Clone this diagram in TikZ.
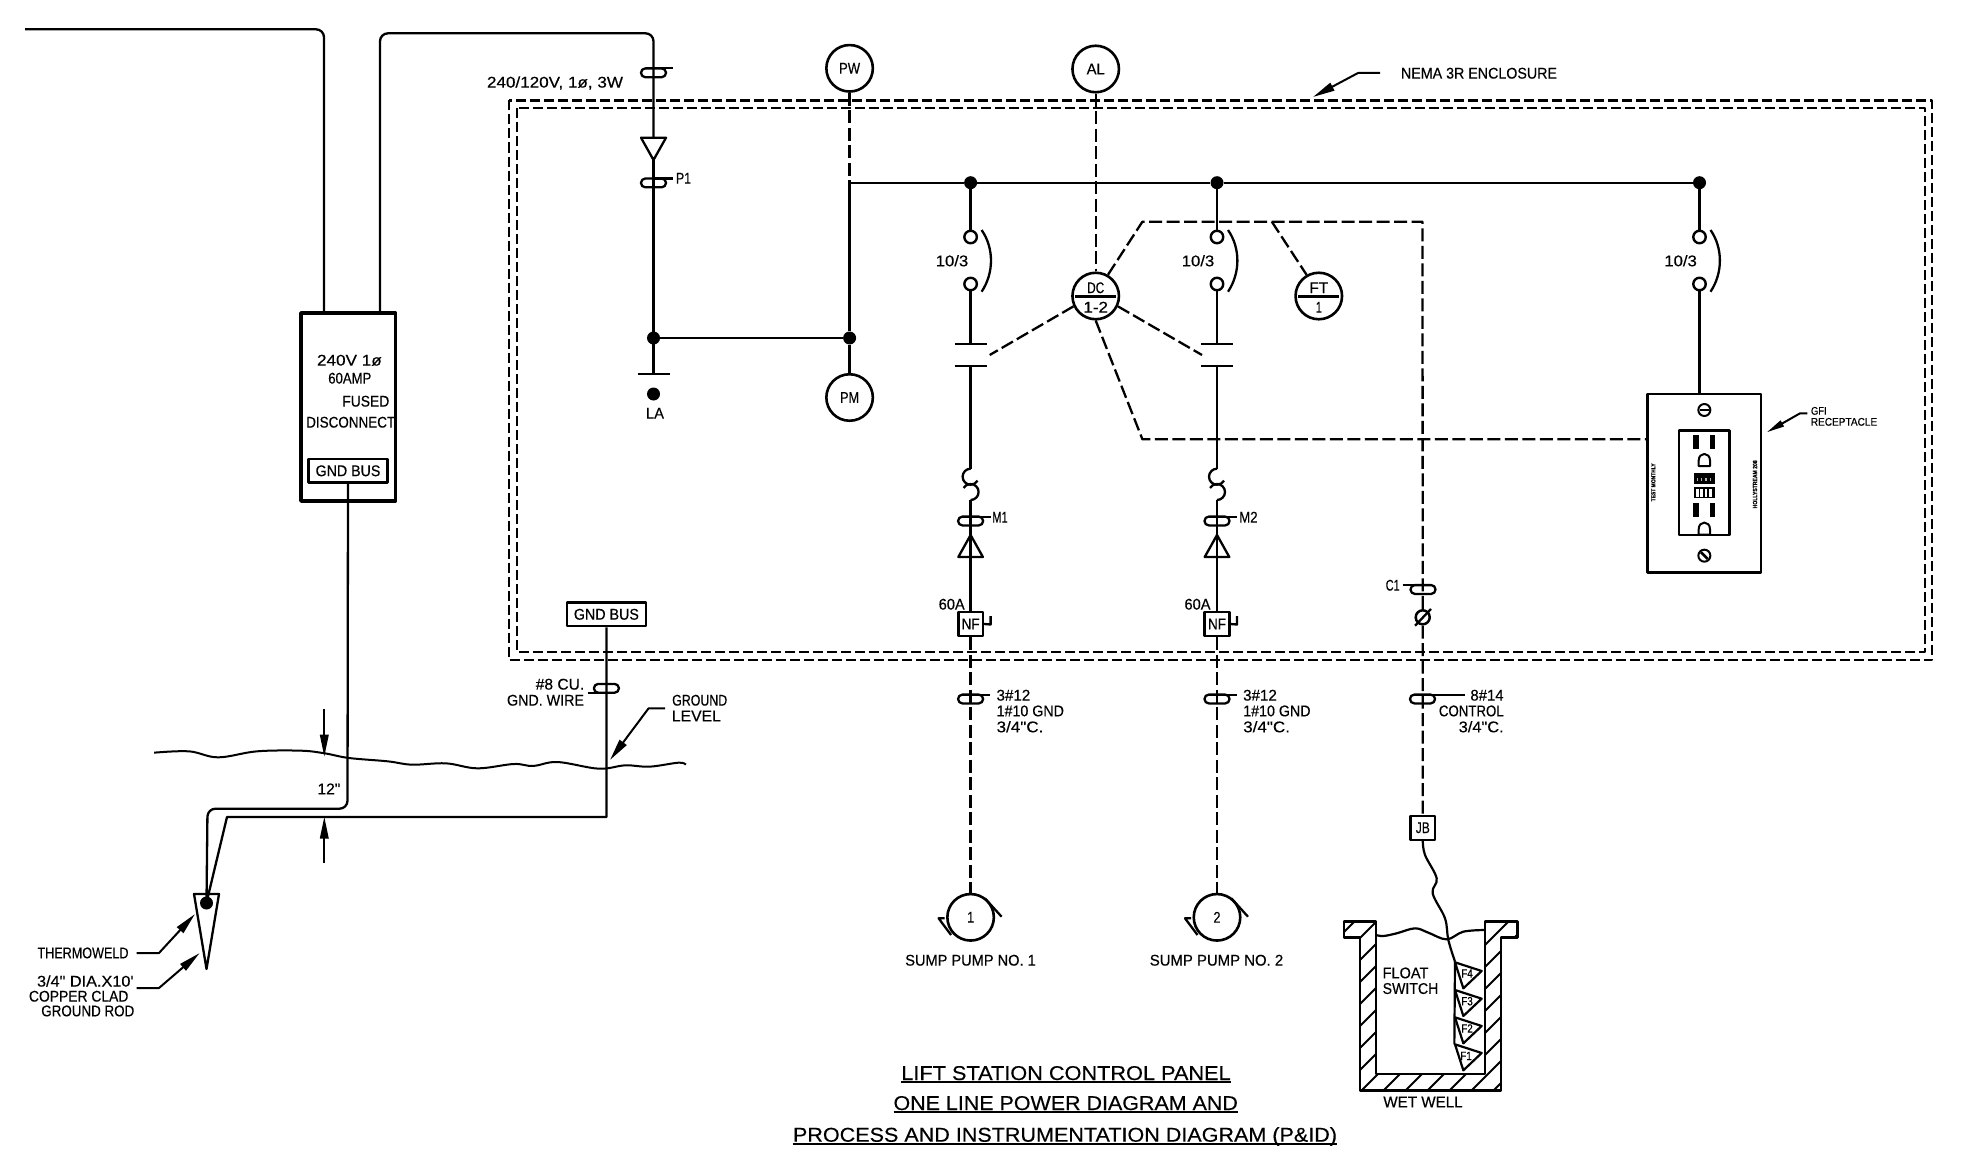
\documentclass[tikz,border=0pt]{standalone}
\usepackage{graphicx}
\usepackage{fontspec}
\setmainfont[FakeBold=0.35,AutoFakeBold=0.35]{Liberation Sans}
\newfontfamily\cadfont[FakeBold=0.35]{Liberation Sans}
\usetikzlibrary{arrows.meta,calc}
\newcommand\tx[6][15.5]{\node[lbl,yshift={-0.36*#1*1pt}] (#2) at (#3,#4) {\fontsize{#1}{#1}\selectfont\resizebox{#5pt}{\height}{\cadfont #6}};}
\newcommand\inb[3][15.5]{{\fontsize{#1}{#1}\selectfont\resizebox{#2pt}{\height}{\cadfont #3}}}
% cable tag: x, y centre, leader start, leader end, leader y
\newcommand\ctag[5]{\draw[part,rounded corners=4.3pt] (#1-12.5,#2-4.4) rectangle (#1+12.5,#2+4.4); \draw[part] (#3,#5) -- (#4,#5);}
% switch with its arc: id, x
\newcommand\swbr[2]{
  \node[term] (sw#1a) at (#2,237) {};
  \node[term] (sw#1b) at (#2,284) {};
  \draw[part] (#2+11,230) .. controls (#2+23.5,248) and (#2+23.5,273) .. (#2+11,291.7);
  \draw[wire] (d#1) -- (sw#1a);
}
% motor branch: id, x, overload tag label
\newcommand\motor[3]{
  \coordinate (ct#1) at (#2,343.7); \coordinate (cb#1) at (#2,366);
  \coordinate (fu#1a) at (#2,468.7); \coordinate (fu#1b) at (#2,500);
  \draw[part] (#2-16,343.7) -- (#2+16,343.7);
  \draw[part] (#2-16,366) -- (#2+16,366);
  \draw[wire] (sw#1b) -- (ct#1);
  \draw[wire] (cb#1) -- (fu#1a);
  \draw[part] (fu#1a) .. controls (#2-4.4,468.7) and (#2-8,472.3) .. (#2-8,476.7) .. controls (#2-8,481.1) and (#2-4.4,484.7) .. (#2,484.7) .. controls (#2+3,484.7) and (#2+5.5,483) .. (#2+7,480.7);
  \draw[part] (fu#1b) .. controls (#2+4.4,500) and (#2+8,496.4) .. (#2+8,492) .. controls (#2+8,487.6) and (#2+4.4,484) .. (#2,484) .. controls (#2-3,484) and (#2-5.5,485.5) .. (#2-7,488);
  \ctag{#2}{521}{#2}{#2+20}{516.7}
  \node[nfbox] (nf#1) at (#2,624) {\inb{18}{NF}};
  \draw[wire] (fu#1b) -- (nf#1.north);
  \draw[part] (#2,535) -- (#2+12.3,557) -- (#2-12.3,557) -- cycle;
  \draw[part] (nf#1.east) -- (#2+20,624.5) -- (#2+20,616);
  \node[inst] (pump#1) at (#2,917.3) {\inb{7}{#1}};
  \draw[ctl] (nf#1.south) -- (pump#1.north);
  \ctag{#2}{699}{#2}{#2+19.5}{695}
  \draw[part] (#2+14.3,898.3) -- (#2+31,916.7);
  \draw[part] (#2-26,918.3) -- (#2-32,918.3) -- (#2-19.5,935);
}
\begin{document}
\begin{tikzpicture}[x=1pt,y=-1pt,line join=round,
  wire/.style={line width=2.3pt},
  part/.style={line width=2.3pt},
  heavy/.style={line width=3.4pt},
  ctl/.style={line width=2.3pt,dash pattern=on 13pt off 4.5pt},
  encl/.style={line width=2.4pt,dash pattern=on 10pt off 4pt},
  lead/.style={line width=2pt},
  bigarrow/.style={-{Triangle[length=22pt,width=8.5pt]}},
  smallarrow/.style={-{Triangle[length=18pt,width=6.5pt]}},
  lbl/.style={anchor=base,inner sep=0pt,outer sep=0pt},
  jdot/.style={circle,fill=black,inner sep=0pt,minimum size=13pt},
  term/.style={circle,draw,line width=2.4pt,fill=white,inner sep=0pt,minimum size=12.5pt},
  inst/.style={circle,draw,line width=2.6pt,fill=white,inner sep=0pt,minimum size=46.5pt},
  nfbox/.style={draw,line width=2.6pt,fill=white,inner sep=0pt,minimum width=24.5pt,minimum height=24pt},
  busbox/.style={draw,line width=2.6pt,fill=white,inner sep=0pt,minimum height=23.7pt}]
\useasboundingbox (0,0) rectangle (1972,1153);
\fill[white] (0,0) rectangle (1972,1153);

% enclosure
\draw[encl] (509,100.5) rectangle (1932,660);
\draw[encl] (517,108) rectangle (1925,652);
\coordinate (nemaA) at (1380,73); \coordinate (nemaB) at (1358,73); \coordinate (nemaC) at (1313,97);
\draw[lead,bigarrow] (nemaA) -- (nemaB) -- (nemaC);
\tx{nema}{1479}{73}{156}{NEMA 3R ENCLOSURE}

% fused disconnect
\node[draw,heavy,fill=white,inner sep=0pt,minimum width=94.5pt,minimum height=188pt] (disc) at (348.2,407) {};
\node[busbox,minimum width=79pt] (gb1) at (348,470.8) {\inb{64.8}{GND BUS}};
\tx{dv}{349.4}{360}{64.7}{240V 1ø}
\tx{da}{349.8}{378}{43}{60AMP}
\tx{df}{365.8}{401}{47}{FUSED}
\tx{dd}{350.7}{422}{89}{DISCONNECT}
\coordinate (a0) at (25,29.3); \coordinate (a1) at (324,29.3);
\draw[wire,rounded corners=8pt] (a0) -- (a1) -- (a1 |- disc.north);
\coordinate (b1) at (380,33.3); \coordinate (b2) at (653.5,33.3); \coordinate (tri1) at (653.5,137.7);
\draw[wire,rounded corners=8pt] (b1 |- disc.north) -- (b1) -- (b2) -- (tri1);

% service side
\ctag{653.5}{72.8}{653.5}{673}{68.3}
\tx{svc}{555}{82}{136}{240/120V, 1ø, 3W}
\draw[part] (641,137.7) -- (666,137.7) -- (653.5,160) -- cycle;
\coordinate (tip1) at (653.5,160); \coordinate (labar) at (653.5,374);
\draw[wire] (tip1) -- (labar);
\ctag{653.5}{182.9}{653.5}{673}{178.5}
\tx{p1}{683.5}{178}{15}{P1}
\node[jdot] (j1) at (653.5,338) {};
\draw[part] (637.5,374) -- (669.6,374);
\node[jdot] (ladot) at (653.5,394) {};
\tx{la}{655}{413}{18}{LA}
\node[jdot] (j2) at (849.6,338) {};
\draw[wire] (j1) -- (j2);
\coordinate (busL) at (849.6,182.7);
\node[inst] (PW) at (849.6,68.3) {\inb{21}{PW}};
\node[inst] (PM) at (849.6,397.5) {\inb{19}{PM}};
\node[inst] (AL) at (1095.7,69) {\inb{18}{AL}};
\draw[wire] (busL) -- (j2) -- (PM.north);
\draw[ctl] (PW.south) -- (busL);

% bus and branches
\node[jdot] (d1) at (970.6,182.7) {};
\node[jdot] (d2) at (1217,182.7) {};
\node[jdot] (d3) at (1699.5,182.7) {};
\draw[wire] (busL) -- (d1) -- (d2) -- (d3);
\swbr{1}{970.6}
\swbr{2}{1217}
\swbr{3}{1699.5}
\tx{s1}{952}{260.7}{32.5}{10/3}
\tx{s2}{1198}{260.7}{32.5}{10/3}
\tx{s3}{1680.6}{260.7}{32.5}{10/3}
\motor{1}{970.6}{M1}
\motor{2}{1217}{M2}
\tx{m1}{1000}{517}{15.3}{M1}
\tx{m2}{1248.4}{517}{18.4}{M2}
\tx{a1t}{951.7}{604}{26}{60A}
\tx{a2t}{1197.5}{604}{26}{60A}
\tx{c1a}{1013.4}{695}{33.7}{3\#12}
\tx{c1b}{1030.3}{710.7}{67.3}{1\#10 GND}
\tx{c1c}{1020}{726.7}{46.7}{3/4"C.}
\tx{c2a}{1260}{695}{33.7}{3\#12}
\tx{c2b}{1276.9}{710.7}{67.3}{1\#10 GND}
\tx{c2c}{1266.6}{726.7}{46.7}{3/4"C.}
\tx{sp1}{970.5}{960}{130.5}{SUMP PUMP NO. 1}
\tx{sp2}{1216.5}{960}{133.4}{SUMP PUMP NO. 2}

% controller
\node[inst] (DC) at (1095.7,296) {};
\node[inst] (FT) at (1318.8,296) {};
\draw[line width=3pt,shorten >=4pt,shorten <=4pt] (DC.west) -- (DC.east);
\draw[line width=3pt,shorten >=4pt,shorten <=4pt] (FT.west) -- (FT.east);
\tx{dct}{1095.7}{287.5}{17}{DC}
\tx{dcb}{1095.7}{307}{24.5}{1-2}
\tx{ftt}{1318.8}{287.5}{19}{FT}
\tx{ftb}{1318.8}{307}{6}{1}
\draw[ctl] (AL.south) -- (DC.north);
\coordinate (k1) at (1142.4,221.7); \coordinate (k2) at (1422.5,221.7); \coordinate (k3) at (1142.4,439.3);
\coordinate (ftj) at (1271.8,221.7); \coordinate (ccl) at (989.7,355); \coordinate (ccr) at (1202,355);
\node[circle,draw,line width=2.5pt,fill=white,inner sep=0pt,minimum size=14pt] (phi) at (1422.7,617.3) {};
\node[nfbox] (JB) at (1422.8,827.8) {\inb{14}{JB}};
\draw[part] (1415,625.7) -- (1431,609);
\draw[ctl] (DC.60) -- (k1) -- (k2) -- (phi.north);
\draw[ctl] (phi.south) -- (JB.north);
\draw[ctl] (ftj) -- (FT.120);
\draw[ctl] (DC.205) -- (ccl);
\draw[ctl] (DC.-25) -- (ccr);
\node[draw,line width=2.7pt,fill=white,inner sep=0pt,minimum width=113.3pt,minimum height=178.3pt] (GFI) at (1704.3,483.2) {};
\draw[ctl] (DC.south) -- (k3) -- (k3 -| GFI.west);
\draw[wire] (sw3b) -- (sw3b |- GFI.north);
\ctag{1423}{589.5}{1402.7}{1423}{585}
\tx{c1l}{1392.7}{585}{14}{C1}
\ctag{1422.5}{699}{1422.5}{1465}{695}
\tx{c3a}{1487}{695}{33.2}{8\#14}
\tx{c3b}{1471.3}{710.7}{64.8}{CONTROL}
\tx{c3c}{1481.2}{726.7}{45}{3/4"C.}

% GFI receptacle (crop units)
\begin{scope}[shift={(1600,370)},x=0.33333pt,y=-0.33333pt]
  \draw[line width=2.4pt] (237,182) rectangle (388,495);
  \draw[line width=2pt,fill=white] (313,120) circle[radius=18];
  \draw[line width=2.6pt] (300,120) -- (326,120);
  \draw[line width=2pt,fill=white] (313,557) circle[radius=18];
  \draw[line width=2.6pt] (303,547) -- (323,567);
  \foreach \sx/\sy in {288/195,338/195,288/400,338/400}
    \fill[black] (\sx-8,\sy) rectangle (\sx+8,\sy+42);
  \foreach \dy in {0,206}
    \draw[line width=2pt] (296,288+\dy) -- (296,272+\dy) .. controls (296,245+\dy) and (330,245+\dy) .. (330,272+\dy) -- (330,288+\dy) -- cycle;
  \fill[black] (282,310) rectangle (345,343);
  \fill[black] (282,352) rectangle (345,385);
  \foreach \bx in {292,305,318,332} {
    \fill[gray!60] (\bx-2,324) rectangle (\bx+2,332);
    \fill[white] (\bx-4,358) rectangle (\bx+4,380);
  }
  \node[anchor=center,inner sep=0pt,rotate=90] (gfil) at (160,337) {\inb[6]{38}{\textbf{TEST MONTHLY}}};
  \node[anchor=center,inner sep=0pt,rotate=90] (gfir) at (465,343) {\inb[6]{48}{\textbf{HOLLYSTREAM 208}}};
  \coordinate (gA) at (622,130); \coordinate (gB) at (600,130); \coordinate (gC) at (500,187);
  \draw[lead,smallarrow] (gA) -- (gB) -- (gC);
\end{scope}
\tx[11]{gf1}{1818.8}{410.7}{15.7}{GFI}
\tx[11]{gf2}{1844}{421.7}{66.3}{RECEPTACLE}

% wet well (crop units)
\begin{scope}[shift={(1300,800)},x=0.33333pt,y=-0.33333pt]
  \begin{scope}
    \clip (132,365) -- (228,365) -- (228,822) -- (555,822) -- (555,365) -- (652,365) -- (652,413) -- (603,413) -- (603,872) -- (180,872) -- (180,413) -- (132,413) -- cycle;
    \foreach \c in {528,594,...,1452}
      \draw[line width=2pt] (0,\c) -- (\c,0);
  \end{scope}
  \draw[line width=2.8pt] (132,365) -- (228,365) -- (228,822) -- (555,822) -- (555,365) -- (652,365) -- (652,413) -- (603,413) -- (603,872) -- (180,872) -- (180,413) -- (132,413) -- cycle;
  \draw[line width=2.2pt] plot[smooth,tension=.6] coordinates {(228,405) (250,408) (290,400) (345,385) (385,398) (440,418) (490,395) (555,390)};
  \draw[line width=2.2pt] plot[smooth,tension=.6] coordinates {(JB.south) (375,165) (410,235) (398,280) (435,355) (445,420) (465,485)};
  \draw[line width=2.2pt] (465,485) -- (463,733);
  \foreach \ty in {487,570,652,733}
    \draw[line width=2.2pt] (465,\ty) -- (545,\ty+26) -- (490,\ty+78) -- cycle;
\end{scope}
\tx[12]{f4}{1467}{973.3}{11.5}{F4}
\tx[12]{f3}{1467}{1001}{11.5}{F3}
\tx[12]{f2}{1467}{1028.3}{11.5}{F2}
\tx[12]{f1}{1466}{1055.7}{11.5}{F1}
\tx{fl}{1405.5}{972.7}{45.7}{FLOAT}
\tx{sw}{1410.5}{988.3}{55.7}{SWITCH}
\tx{ww}{1423}{1101.7}{79.3}{WET WELL}

% grounding
\node[busbox,minimum width=79pt] (gb2) at (606.4,614.3) {\inb{65}{GND BUS}};
\coordinate (g1) at (347.5,808.7); \coordinate (g2) at (207.5,808.7); \coordinate (weld) at (206.5,902.7);
\draw[wire,rounded corners=8pt] (gb1.south) -- (g1) -- (g2) -- (weld);
\coordinate (g3) at (606.4,817); \coordinate (g4) at (227,817);
\draw[wire] (gb2.south) -- (g3) -- (g4) -- (weld);
\ctag{606.4}{688.3}{587.5}{606.4}{692.7}
\tx{g8a}{560}{684}{48.5}{\#8 CU.}
\tx{g8b}{545.5}{700}{77}{GND. WIRE}
\draw[part] (194,894) -- (219,894) -- (206.5,969) -- cycle;
\node[circle,fill=black,inner sep=0pt,minimum size=13pt] (welddot) at (206.5,903) {};
\begin{scope}[shift={(0,560)},x=0.48473pt,y=-0.33333pt]
  \draw[line width=2pt] plot[smooth,tension=.6] coordinates {(318,578) (390,574) (450,592) (530,574) (620,572) (670,580) (720,594) (800,604) (850,614) (920,610) (985,625) (1060,612) (1100,618) (1150,606) (1235,626) (1290,616) (1340,620) (1400,608) (1415,614)};
\end{scope}
\coordinate (dimT) at (324.3,709); \coordinate (dimTt) at (324.3,756.7);
\coordinate (dimB) at (324.3,863); \coordinate (dimBt) at (324.3,816.7);
\draw[lead,bigarrow] (dimT) -- (dimTt);
\draw[lead,bigarrow] (dimB) -- (dimBt);
\tx{twelve}{328.9}{788.7}{22.8}{12"}
\coordinate (glA) at (665,708.3); \coordinate (glB) at (648.6,708.3); \coordinate (glC) at (610,760);
\draw[lead,bigarrow] (glA) -- (glB) -- (glC);
\tx{gl1}{699.7}{700}{55}{GROUND}
\tx{gl2}{696.4}{715.7}{49}{LEVEL}
\coordinate (tA) at (136.7,953); \coordinate (tB) at (159,953); \coordinate (tC) at (195,914);
\draw[lead,bigarrow] (tA) -- (tB) -- (tC);
\coordinate (rA) at (136.7,988); \coordinate (rB) at (159,988); \coordinate (rC) at (199.7,953);
\draw[lead,bigarrow] (rA) -- (rB) -- (rC);
\tx{tw}{83}{952.7}{91}{THERMOWELD}
\tx{r1}{85.3}{981}{96.5}{3/4" DIA.X10'}
\tx{r2}{78.7}{996}{99.4}{COPPER CLAD}
\tx{r3}{87.8}{1010.7}{93}{GROUND ROD}

% title
\tx[20]{t1}{1066}{1072.8}{329.3}{LIFT STATION CONTROL PANEL}
\tx[20]{t2}{1065.7}{1102.8}{344.3}{ONE LINE POWER DIAGRAM AND}
\tx[20]{t3}{1065}{1134.5}{544}{PROCESS AND INSTRUMENTATION DIAGRAM (P\&ID)}
\foreach \n in {t1,t2,t3}
  \draw[line width=2.2pt] ([yshift=-2.2pt]\n.base west) -- ([yshift=-2.2pt]\n.base east);
\end{tikzpicture}
\end{document}
